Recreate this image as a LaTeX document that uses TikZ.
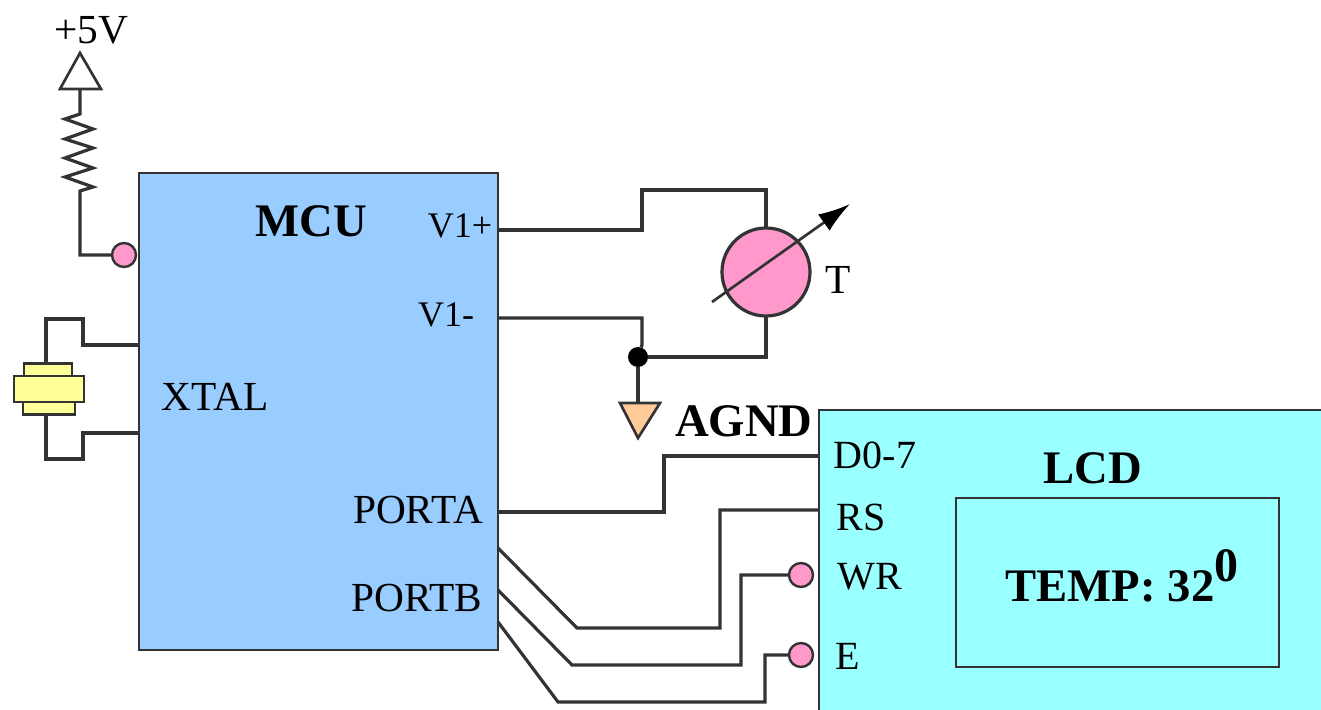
\documentclass[tikz,border=0pt]{standalone}
\usepackage{fontspec}
\setmainfont{Liberation Serif}
\usetikzlibrary{arrows.meta}
\definecolor{mcublue}{HTML}{99CCFF}
\definecolor{lcdcyan}{HTML}{99FFFF}
\definecolor{padpink}{HTML}{FF99CC}
\definecolor{xtalyellow}{HTML}{FFFF99}
\definecolor{gndpeach}{HTML}{FFCC99}
\tikzset{
  wire/.style={line width=2.4pt,color=black!80},
  box/.style={draw=black!80,line width=2.2pt,inner sep=0pt,outer sep=0pt,anchor=north west},
  pad/.style={circle,draw=black!80,fill=padpink,line width=1.8pt,minimum size=18pt,inner sep=0pt,outer sep=0pt},
  plate/.style={draw=black!80,fill=xtalyellow,line width=2pt,inner sep=0pt,outer sep=0pt},
  lbl/.style={inner sep=0pt,font=\fontsize{31}{34}\selectfont},
  pin/.style={inner sep=0pt,font=\fontsize{27}{30}\selectfont},
  lcdpin/.style={inner sep=0pt,font=\fontsize{30}{32}\selectfont},
  big/.style={inner sep=0pt,font=\fontsize{35}{38}\selectfont\bfseries},
}
\begin{document}
\begin{tikzpicture}[x=0.75pt,y=-0.75pt]
\useasboundingbox (0,0) rectangle (1321,710);

\node[box,fill=mcublue,minimum width=269.25pt,minimum height=357.75pt] (mcu) at (139,173) {};
\node[box,fill=lcdcyan,minimum width=385pt,minimum height=228pt] (lcd) at (819,410) {};
\node[box,fill=lcdcyan,minimum width=242.25pt,minimum height=126.75pt] (screen) at (956,498) {};

\node[big] (mcutext) at (311,221) {MCU};
\node[big] (lcdtext) at (1093,468) {LCD};
\node[big] (temptext) at (1122,576) {TEMP: 32\raisebox{0.42em}{\fontsize{36}{38}\selectfont 0}};
\node[big] (agndtext) at (744,421) {AGND};
\node[pin] (vplustext) at (460,226) {V1+};
\node[pin] (vminustext) at (446,315) {V1-};
\node[lbl] (xtaltext) at (215,397) {XTAL};
\node[lbl] (portatext) at (418,510) {PORTA};
\node[lbl] (portbtext) at (417,598) {PORTB};
\node[lcdpin] (d0text) at (875,455) {D0-7};
\node[lcdpin] (rstext) at (861,517) {RS};
\node[lcdpin] (wrtext) at (870,577) {WR};
\node[lcdpin] (etext) at (848,656) {E};
\node[lbl] (ttext) at (838,280) {T};
\node[lbl] (vcctext) at (91,30) {+5V};

\coordinate (vplus) at (498,230);
\coordinate (vminus) at (498,318);
\coordinate (porta) at (498,512);
\coordinate (portb1) at (498,548);
\coordinate (portb2) at (498,590);
\coordinate (portb3) at (498,622);
\coordinate (d0) at (819,456);
\coordinate (rs) at (819,510);
\coordinate (xtal1) at (139,345);
\coordinate (xtal2) at (139,433);
\coordinate (vcctop) at (80,53);
\coordinate (vccleft) at (60,89);
\coordinate (vccright) at (101,89);
\coordinate (vccbase) at (80,89);
\coordinate (gndleft) at (620,403);
\coordinate (gndright) at (660,403);
\coordinate (gndtip) at (638,438);
\coordinate (gndbase) at (638,403);

% +5V pull-up
\node[pad] (pullup) at (124,255) {};
\draw[wire,line width=2pt] (vcctop) -- (vccright) -- (vccleft) -- cycle;
\draw[wire] (vccbase) -- (80,114) -- (65,119) -- (93,129) -- (65,139) -- (93,148)
  -- (65,158) -- (93,168) -- (65,177) -- (93,187) -- (80,191) -- (80,255) -- (pullup);

% crystal
\node[plate,minimum width=36pt,minimum height=10pt] (xtaltop) at (48,370) {};
\node[plate,minimum width=39pt,minimum height=10pt] (xtalbot) at (49,408) {};
\node[plate,minimum width=52.5pt,minimum height=19.5pt] (xtalmid) at (49,389) {};
\draw[wire] (xtal1) -- (83,345) -- (83,319) -- (46,319) -- (46,363);
\draw[wire] (xtal2) -- (83,433) -- (83,459) -- (46,459) -- (46,414);

% temperature sensor
\node[circle,draw=black!80,fill=padpink,line width=2.4pt,minimum size=66pt,inner sep=0pt,outer sep=0pt] (sensor) at (766,272) {};
\node[circle,fill=black,minimum size=15pt,inner sep=0pt,outer sep=0pt] (dot) at (638,357) {};
\draw[wire] (vplus) -- (642,230) -- (642,190) -- (766,190) -- (sensor);
\draw[wire] (vminus) -- (642,318) -- (642,345) -- (dot);
\draw[wire] (dot) -- (766,357) -- (sensor);
\draw[wire,line width=2pt,-{Latex[length=24pt,width=15pt,black]}] (712,302) -- (850,204);
\draw[wire,fill=gndpeach,line width=2pt] (gndleft) -- (gndright) -- (gndtip) -- cycle;
\draw[wire] (dot) -- (gndbase);

% LCD bus
\node[pad] (wrpad) at (801,575) {};
\node[pad] (epad) at (801,655) {};
\draw[wire] (porta) -- (664,512) -- (664,456) -- (d0);
\draw[wire] (portb1) -- (577,628) -- (720,628) -- (720,510) -- (rs);
\draw[wire] (portb2) -- (572,665) -- (741,665) -- (741,575) -- (wrpad);
\draw[wire] (portb3) -- (558,702) -- (765,702) -- (765,655) -- (epad);

\end{tikzpicture}
\end{document}
